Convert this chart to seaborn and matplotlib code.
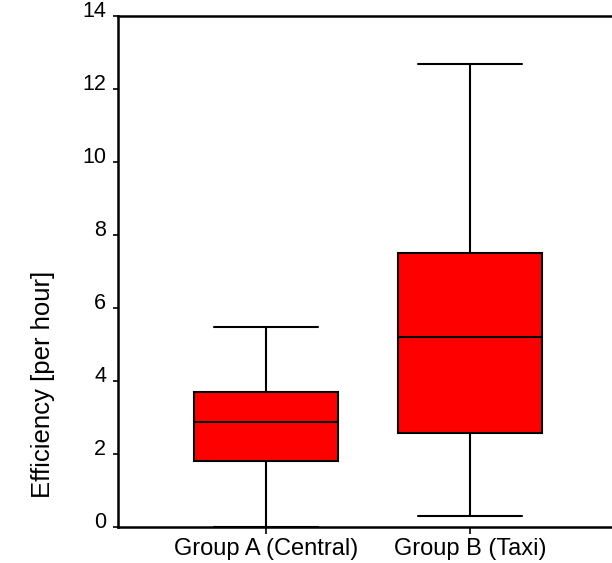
import numpy as np
import pandas as pd
import seaborn as sns
import matplotlib
matplotlib.use("Agg")
import matplotlib.pyplot as plt
from matplotlib.transforms import ScaledTranslation

# five-number summaries: min, q1, median, q3, max
groups = ['Group A (Central)', 'Group B (Taxi)']
group_a = [0.0, 1.81, 2.88, 3.70, 5.48]
group_b = [0.30, 2.57, 5.21, 7.50, 12.68]
y_ticks = [0, 2, 4, 6, 8, 10, 12, 14]

df = pd.DataFrame({
    'group': [groups[0]] * len(group_a) + [groups[1]] * len(group_b),
    'efficiency': group_a + group_b,
})

sns.set_style('ticks')
plt.rcParams['font.family'] = ['Liberation Sans', 'DejaVu Sans']
plt.rcParams['text.color'] = 'black'
plt.rcParams['axes.labelcolor'] = 'black'
plt.rcParams['xtick.color'] = 'black'
plt.rcParams['ytick.color'] = 'black'

fig = plt.figure(figsize=(6.12, 5.63), dpi=100)
ax = fig.add_axes([118 / 612, 36 / 563, 500 / 612, 511 / 563])

sns.boxplot(
    data=df, x='group', y='efficiency', order=groups, ax=ax,
    whis=(0, 100), width=0.71, color='#ff0000', saturation=1,
    linecolor='black', linewidth=1.5, capwidths=0.51,
)

ax.set_xlim(-0.725, 1.725)
ax.set_ylim(0, 14)
ax.set_yticks(y_ticks)
ax.set_xlabel('')
ax.set_ylabel('Efficiency [per hour]', fontsize=18.5, color='black')
ax.yaxis.set_label_coords(-0.125, 0.28)

ax.tick_params(axis='y', labelsize=15.5, length=3.5, width=1.2, pad=5,
               color='black', labelcolor='black')
ax.tick_params(axis='x', labelsize=17, length=5, width=1.2, pad=3,
               color='black', labelcolor='black')
for lab in ax.get_yticklabels():
    lab.set_transform(lab.get_transform() + ScaledTranslation(0, 0.07, fig.dpi_scale_trans))

for side in ['left', 'bottom', 'top']:
    ax.spines[side].set_linewidth(1.8)
    ax.spines[side].set_color('black')
ax.spines['right'].set_visible(False)

fig.savefig('out.png', dpi=100)
